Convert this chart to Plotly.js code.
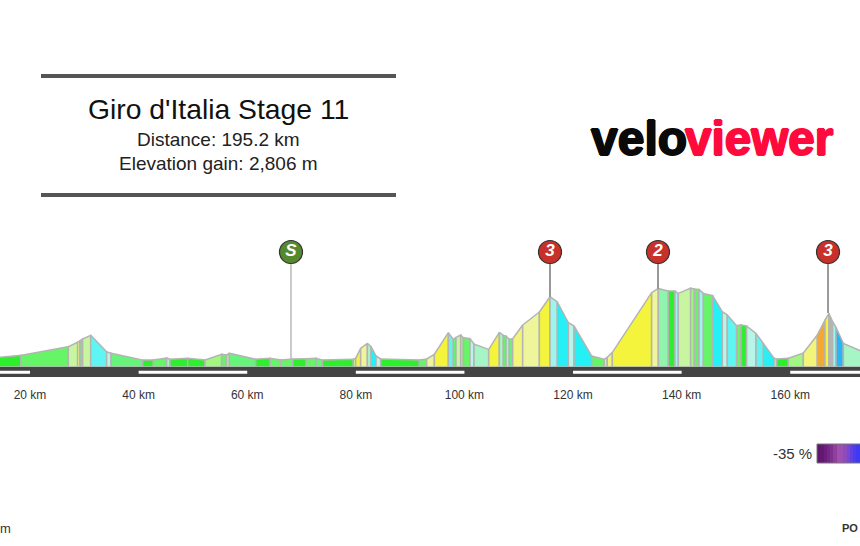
<!DOCTYPE html>
<html>
<head>
<meta charset="utf-8">
<script src="https://cdn.plot.ly/plotly-3.0.1.min.js"></script>
<style>html,body{margin:0;padding:0;background:#fff;overflow:hidden}</style>
</head>
<body>
<div id="grafico" style="width:860px;height:546px"></div>
<script>
// distance (km) and elevation (m) where each gradient segment starts/ends
const distanceKm = [14, 18.34, 27.05, 28.77, 29.2, 29.69, 31.17, 34.11, 34.91, 40.74, 42.71, 45.16, 45.78, 49.03, 52.22, 55.29, 56.21, 56.7, 61.55, 64.25, 66.16, 68.37, 70.83, 72.67, 73.83, 79.54, 79.97, 80.89, 82.12, 82.8, 83.72, 84.58, 91.7, 93.05, 94.46, 97.04, 97.96, 98.45, 99.31, 99.8, 101.03, 101.77, 104.47, 106.43, 107.17, 107.66, 108.27, 108.89, 110.73, 113.8, 115.76, 117.11, 119.14, 120.18, 123.43, 125.76, 126.3, 127.24, 134.48, 135.71, 137.55, 138.78, 139.39, 141.66, 142.34, 143.2, 144, 145.71, 147.49, 148.41, 150.13, 150.93, 151.97, 153.69, 155.05, 157.01, 157.5, 159.65, 162.41, 164.99, 166.4, 167.14, 167.44, 167.81, 168.43, 169.78, 173.2];
const elevationM = [95, 117, 203, 247, 263, 280, 317, 153, 137, 70, 70, 90, 77, 87, 70, 127, 120, 137, 77, 87, 70, 80, 83, 87, 70, 77, 87, 187, 237, 203, 110, 80, 70, 80, 127, 343, 276, 296, 320, 293, 283, 230, 176, 346, 316, 310, 276, 283, 420, 550, 703, 650, 443, 410, 110, 77, 97, 146, 743, 786, 760, 760, 736, 789, 780, 776, 736, 713, 553, 520, 413, 420, 410, 336, 236, 87, 80, 87, 140, 320, 470, 537, 497, 453, 397, 237, 155];
// gradient (%) of each segment
const gradientPct = [0, 1, 3, 5, 1, 3, -6, -4, -1, 0, 1, -3, 0, 0, 2, 1, 3, -1, 0, 1, 1, 0, 1, -1, 0, 3, 6, 4, -3, -7, -4, 0, 1, 4, 6, -6, 1, 3, 2, 1, -4, -3, 6, -3, 1, -3, -1, 5, 4, 6, -5, -7, -4, -7, 1, 3, 5, 6, 4, -2, 0, -5, 3, 2, 1, -5, 1, -7, -4, -6, 1, 0, -4, -6, -7, -3, 0, 2, 5, 10, 6, 10, -7, -5, -10, -3];

const gradientStops = [-10, -7, -6, -5, -4, -3, -2, -1, 0, 1, 2, 3, 4, 5, 6, 10];
const gradientColors = ['#2ab4f5', '#25f0f5', '#5ff5f2', '#9ef5ee', '#b8f5e8', '#a5f5c5', '#8ff5ac', '#66f57a', '#2bf02b', '#66f566', '#a0f880', '#c8f5a0', '#eef59a', '#f2f57a', '#f4f43c', '#f5a82f'];

const kmTicks = [20, 40, 60, 80, 100, 120, 140, 160];
const kmLabels = ['20 km', '40 km', '60 km', '80 km', '100 km', '120 km', '140 km', '160 km'];

const markerKm = [68.06, 115.76, 135.65, 166.96];
const markerTopM = [80, 703, 786, 540];
const markerLabels = ['S', '3', '2', '3'];
const markerKinds = ['sprint', 'climb', 'climb', 'climb'];

const legendGradient = [-35, -34, -33, -32, -31, -30, -29, -28, -27, -26, -25, -24, -23, -22];
const legendColors = ['#5e1470', '#64186f', '#6c1e80', '#762686', '#80308e', '#90409c', '#a050ae', '#9c50b4', '#8c4cc0', '#7846d0', '#6040e0', '#4c3cec', '#3e3af4', '#3a3af8'];

function corDoGradiente(g) {
  return gradientColors[gradientStops.indexOf(g)];
}

var data = [];

for (let i = 0; i < gradientPct.length; i++) {
  data.push({
    x: [distanceKm[i], distanceKm[i], distanceKm[i + 1], distanceKm[i + 1], distanceKm[i]],
    y: [0, elevationM[i], elevationM[i + 1], 0, 0],
    type: 'scatter',
    mode: 'lines',
    fill: 'toself',
    fillcolor: corDoGradiente(gradientPct[i]),
    line: { color: '#b4b4b4', width: 1.5 },
    hoverinfo: 'skip',
    showlegend: false
  });
}

// pole from the climb top up to its badge
for (let i = 0; i < markerKm.length; i++) {
  data.push({
    x: [markerKm[i], markerKm[i]],
    y: [markerTopM[i], 1150],
    type: 'scatter',
    mode: 'lines',
    line: { color: markerKinds[i] === 'sprint' ? '#b4b4b4' : '#6e6e6e', width: 1.4 },
    hoverinfo: 'skip',
    showlegend: false
  });
}

data.push({
  x: markerKm,
  y: markerKm.map(() => 1150),
  text: markerLabels,
  type: 'scatter',
  mode: 'markers+text',
  textposition: 'middle center',
  textfont: { family: 'Liberation Sans', size: 17, color: '#fff', weight: 'bold', style: 'italic' },
  marker: {
    size: 23,
    color: markerKinds.map(k => k === 'sprint' ? '#55892f' : '#c9302a'),
    line: { color: '#333', width: 1.2 }
  },
  hoverinfo: 'skip',
  showlegend: false
});

data.push({
  x: legendGradient,
  y: [0],
  z: [legendGradient],
  type: 'heatmap',
  xaxis: 'x2',
  yaxis: 'y2',
  colorscale: legendColors.map((c, i) => [i / (legendColors.length - 1), c]),
  showscale: false,
  hoverinfo: 'skip'
});

// white stripes on the road every other 20 km
var faixas = [];
for (let km = 0; km < 180; km += 40) {
  faixas.push({ type: 'rect', xref: 'x', yref: 'y', x0: km, x1: km + 20, y0: -68, y1: -37, fillcolor: '#fff', line: { width: 0 }, layer: 'above' });
}

const engrossa = c => '1px 0 0 ' + c + ', -1px 0 0 ' + c + ', 0 1px 0 ' + c + ', 0 -1px 0 ' + c;

var layout = {
  width: 860,
  height: 546,
  margin: { l: 0, r: 0, t: 0, b: 0 },
  paper_bgcolor: '#fff',
  plot_bgcolor: '#fff',
  font: { family: 'Liberation Sans', color: '#222' },
  showlegend: false,
  xaxis: {
    range: [14.47, 172.85],
    tickvals: kmTicks,
    ticktext: kmLabels,
    tickfont: { size: 12, color: '#333' },
    ticks: 'outside',
    ticklen: 7,
    tickcolor: 'rgba(0,0,0,0)',
    showgrid: false,
    zeroline: false,
    showline: false,
    anchor: 'y'
  },
  yaxis: {
    domain: [169 / 546, 1],
    range: [-100, 3670],
    visible: false,
    showgrid: false,
    zeroline: false
  },
  xaxis2: { domain: [817 / 860, 1], range: [-35.5, -22.5], visible: false, anchor: 'y2' },
  yaxis2: { domain: [83 / 546, 102 / 546], visible: false, anchor: 'x2', range: [-0.5, 0.5] },
  shapes: [
    { type: 'rect', xref: 'paper', yref: 'y', x0: 0, x1: 1, y0: -100, y1: 0, fillcolor: '#444', line: { width: 0 }, layer: 'above' },
    { type: 'rect', xref: 'paper', yref: 'paper', x0: 41 / 860, x1: 396 / 860, y0: 468 / 546, y1: 472 / 546, fillcolor: '#555', line: { width: 0 } },
    { type: 'rect', xref: 'paper', yref: 'paper', x0: 41 / 860, x1: 396 / 860, y0: 349 / 546, y1: 353 / 546, fillcolor: '#555', line: { width: 0 } },
    { type: 'rect', xref: 'paper', yref: 'paper', x0: 817 / 860, x1: 862 / 860, y0: 83 / 546, y1: 102 / 546, fillcolor: 'rgba(0,0,0,0)', line: { color: '#777', width: 1 } }
  ].concat(faixas),
  annotations: [
    { text: "Giro d'Italia Stage 11", x: 218 / 860, y: 437 / 546, xref: 'paper', yref: 'paper', xanchor: 'center', yanchor: 'middle', showarrow: false, font: { size: 28.3, color: '#111' } },
    { text: 'Distance: 195.2 km', x: 218 / 860, y: 407 / 546, xref: 'paper', yref: 'paper', xanchor: 'center', yanchor: 'middle', showarrow: false, font: { size: 19, color: '#222' } },
    { text: 'Elevation gain: 2,806 m', x: 218 / 860, y: 383 / 546, xref: 'paper', yref: 'paper', xanchor: 'center', yanchor: 'middle', showarrow: false, font: { size: 19, color: '#222' } },
    { text: 'velo', x: 589 / 860, y: 408 / 546, xref: 'paper', yref: 'paper', xanchor: 'left', yanchor: 'middle', showarrow: false, font: { size: 48, color: '#0a0a0a', weight: 'bold', shadow: engrossa('#0a0a0a') } },
    { text: 'viewer', x: 683 / 860, y: 408 / 546, xref: 'paper', yref: 'paper', xanchor: 'left', yanchor: 'middle', showarrow: false, font: { size: 47.6, color: '#ff0a3c', weight: 'bold', shadow: engrossa('#ff0a3c') } },
    { text: '-35 %', x: 814 / 860, y: 92 / 546, xref: 'paper', yref: 'paper', xanchor: 'right', yanchor: 'middle', showarrow: false, font: { size: 15, color: '#333' } },
    { text: 'm', x: 0, y: 18 / 546, xref: 'paper', yref: 'paper', xanchor: 'left', yanchor: 'middle', xshift: -2, showarrow: false, font: { size: 13, color: '#333' } },
    { text: 'PO', x: 1, y: 18 / 546, xref: 'paper', yref: 'paper', xanchor: 'right', yanchor: 'middle', showarrow: false, font: { size: 11, color: '#333', weight: 'bold' } }
  ]
};

Plotly.newPlot('grafico', data, layout, { displayModeBar: false, staticPlot: true });
</script>
</body>
</html>
